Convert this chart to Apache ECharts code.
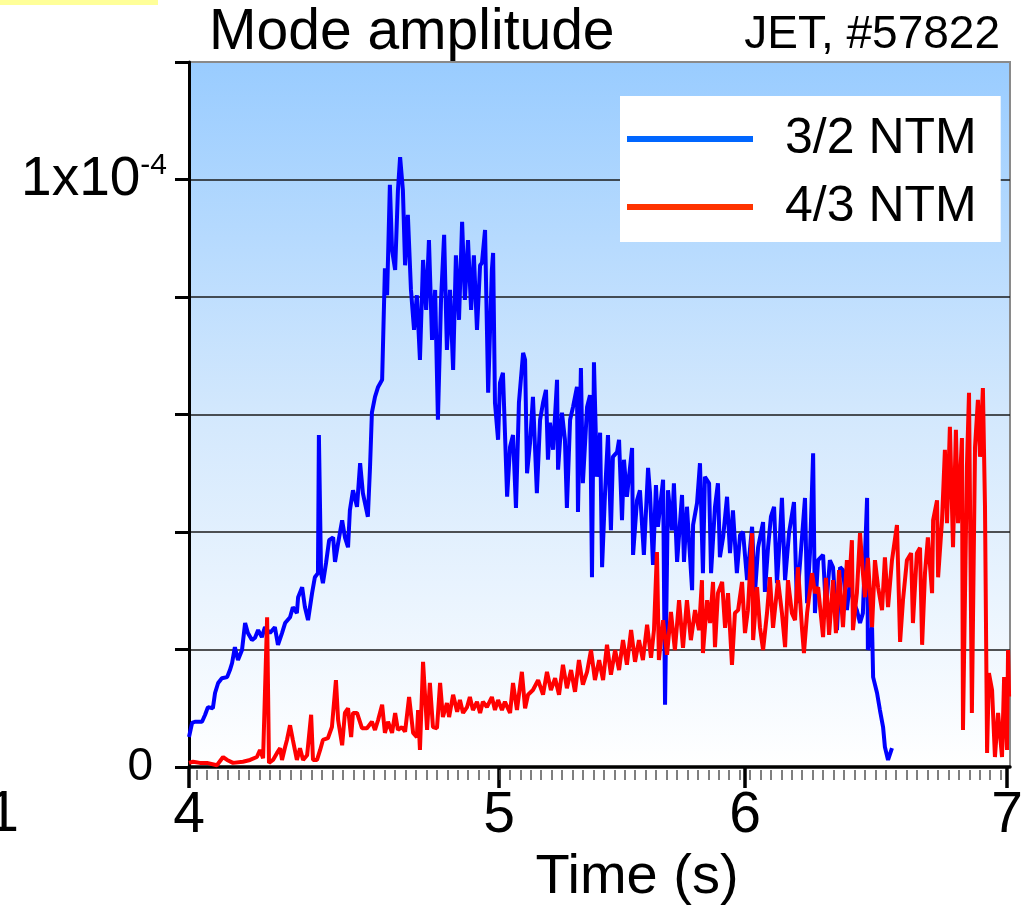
<!DOCTYPE html>
<html><head><meta charset="utf-8">
<script src="https://cdn.jsdelivr.net/npm/echarts@6/dist/echarts.min.js"></script>
<style>html,body{margin:0;padding:0;background:#fff}#c{width:1035px;height:907px}</style>
</head><body><div id="c"></div>
<script>
// ---- data (time in s, amplitude in units of 1e-5) ----
const xTickTimes = [4, 5, 6, 7];
const yTickValues = [0, 2, 4, 6, 8, 10, 12];
const seriesNames = ['3/2 NTM', '4/3 NTM'];

const time32 = [4.000,4.010,4.019,4.042,4.052,4.061,4.077,4.084,4.094,4.106,4.123,4.132,4.139,4.148,4.158,4.171,4.181,4.190,4.203,4.213,4.223,4.235,4.245,4.261,4.277,4.287,4.300,4.310,4.326,4.335,4.348,4.352,4.365,4.374,4.384,4.397,4.406,4.416,4.419,4.426,4.432,4.442,4.452,4.465,4.471,4.481,4.494,4.503,4.513,4.519,4.529,4.542,4.552,4.561,4.577,4.584,4.590,4.600,4.610,4.623,4.632,4.639,4.648,4.655,4.665,4.674,4.681,4.690,4.697,4.706,4.716,4.726,4.735,4.745,4.755,4.765,4.774,4.784,4.794,4.803,4.813,4.823,4.832,4.842,4.852,4.861,4.871,4.881,4.890,4.900,4.910,4.919,4.929,4.939,4.945,4.955,4.965,4.977,4.981,4.987,4.997,5.004,5.016,5.033,5.045,5.057,5.069,5.081,5.098,5.106,5.114,5.126,5.138,5.154,5.167,5.179,5.191,5.199,5.207,5.220,5.236,5.240,5.256,5.268,5.276,5.289,5.301,5.317,5.321,5.333,5.341,5.358,5.370,5.378,5.386,5.398,5.411,5.419,5.431,5.443,5.455,5.463,5.480,5.488,5.500,5.508,5.520,5.541,5.545,5.561,5.573,5.589,5.606,5.614,5.626,5.638,5.646,5.667,5.675,5.687,5.703,5.711,5.724,5.744,5.752,5.764,5.785,5.789,5.805,5.817,5.829,5.837,5.854,5.862,5.878,5.890,5.898,5.911,5.927,5.939,5.951,5.967,5.980,5.992,6.008,6.027,6.038,6.050,6.069,6.076,6.088,6.099,6.111,6.122,6.134,6.141,6.153,6.168,6.187,6.198,6.210,6.229,6.237,6.248,6.260,6.267,6.279,6.298,6.309,6.324,6.336,6.351,6.363,6.374,6.389,6.401,6.412,6.427,6.439,6.450,6.466,6.469,6.485,6.489,6.504,6.515,6.527,6.534,6.546,6.561];
const amp32 = [0.51,0.75,0.77,0.77,0.89,1.02,1.00,1.26,1.43,1.51,1.53,1.65,1.77,2.04,1.82,1.99,2.45,2.28,2.16,2.20,2.33,2.21,2.38,2.28,2.38,2.08,2.28,2.45,2.55,2.72,2.62,2.89,3.06,2.72,2.50,2.96,3.23,3.30,5.65,3.30,3.13,3.47,3.86,3.91,3.49,3.81,4.20,3.91,3.74,4.37,4.71,4.43,5.17,4.66,4.26,5.11,6.03,6.30,6.47,6.59,8.49,8.03,9.91,8.80,8.46,9.82,10.38,9.82,8.54,9.40,8.12,7.44,8.03,6.93,8.63,7.78,8.97,7.27,8.12,5.91,7.95,9.06,7.10,8.12,6.76,8.71,7.61,9.28,7.95,8.97,7.78,8.71,7.44,8.54,8.58,9.14,6.37,8.46,8.75,6.20,5.57,6.54,6.71,4.60,5.45,5.65,4.41,6.20,7.05,6.93,5.00,5.51,6.30,4.66,5.91,6.20,6.42,5.23,5.86,5.40,6.59,5.06,6.03,5.57,4.41,5.91,6.13,6.47,4.34,6.79,4.83,6.13,6.33,3.23,6.89,4.94,5.69,3.40,4.66,5.65,4.03,5.28,5.36,5.57,4.20,5.23,4.60,5.43,3.61,4.54,4.71,3.61,5.09,4.66,3.44,4.80,4.09,4.89,1.06,4.71,4.03,4.83,3.49,4.63,3.49,4.43,3.01,4.12,4.49,5.17,3.30,4.94,4.83,3.30,4.43,4.83,3.57,3.91,4.60,3.64,4.37,3.30,3.95,4.00,3.18,4.09,2.96,3.74,4.17,2.98,3.74,4.26,4.43,3.13,3.98,4.58,3.18,3.98,4.51,2.79,3.47,4.58,2.79,3.64,5.34,2.62,3.52,3.61,2.67,3.52,3.40,2.33,3.40,3.35,2.67,3.18,2.84,2.67,2.45,2.62,4.58,1.99,2.38,1.53,1.26,0.97,0.68,0.34,0.12,0.32];

const time43 = [4.000,4.013,4.035,4.058,4.090,4.110,4.123,4.142,4.174,4.197,4.219,4.229,4.239,4.252,4.258,4.271,4.284,4.294,4.300,4.310,4.316,4.326,4.335,4.348,4.358,4.368,4.381,4.394,4.400,4.413,4.423,4.432,4.448,4.461,4.474,4.481,4.494,4.503,4.513,4.523,4.529,4.542,4.558,4.574,4.590,4.600,4.610,4.623,4.632,4.642,4.655,4.665,4.674,4.687,4.697,4.710,4.723,4.735,4.739,4.745,4.755,4.768,4.777,4.787,4.800,4.810,4.819,4.832,4.839,4.852,4.865,4.874,4.884,4.897,4.906,4.916,4.929,4.939,4.948,4.961,4.977,4.987,4.997,5.012,5.024,5.045,5.057,5.073,5.093,5.106,5.118,5.138,5.159,5.179,5.195,5.211,5.228,5.244,5.260,5.276,5.293,5.309,5.325,5.341,5.358,5.374,5.390,5.407,5.423,5.439,5.455,5.472,5.488,5.504,5.520,5.537,5.553,5.569,5.585,5.602,5.618,5.630,5.642,5.650,5.667,5.683,5.699,5.715,5.732,5.748,5.764,5.780,5.797,5.813,5.825,5.829,5.846,5.858,5.870,5.878,5.890,5.907,5.919,5.931,5.947,5.959,5.972,5.988,6.000,6.011,6.027,6.031,6.046,6.057,6.069,6.084,6.095,6.107,6.126,6.141,6.153,6.164,6.179,6.191,6.202,6.218,6.225,6.237,6.256,6.267,6.279,6.298,6.309,6.321,6.336,6.347,6.359,6.374,6.389,6.397,6.408,6.412,6.427,6.439,6.450,6.458,6.469,6.485,6.496,6.508,6.523,6.534,6.546,6.561,6.580,6.592,6.603,6.618,6.634,6.641,6.656,6.668,6.676,6.687,6.698,6.714,6.718,6.733,6.737,6.752,6.763,6.771,6.782,6.794,6.805,6.813,6.828,6.832,6.847,6.855,6.866,6.878,6.889,6.897,6.908,6.916,6.924,6.931,6.943,6.954,6.966,6.981,6.989,7.000,7.004,7.008];
const amp43 = [0.07,0.09,0.07,0.07,0.03,0.17,0.12,0.07,0.09,0.12,0.17,0.29,0.15,2.55,0.07,0.12,0.24,0.32,0.12,0.34,0.46,0.71,0.46,0.12,0.32,0.12,0.20,0.89,0.12,0.12,0.29,0.46,0.49,0.68,1.48,0.80,0.37,0.92,1.00,0.51,0.92,0.92,0.66,0.66,0.77,0.63,0.80,1.06,0.58,0.77,0.58,0.92,0.63,0.68,0.60,1.19,0.58,0.51,0.97,0.29,1.79,0.63,1.43,0.68,0.66,1.43,0.85,1.09,0.85,1.23,0.94,1.14,0.92,1.02,1.19,0.97,1.11,0.92,1.11,1.02,1.19,0.97,1.14,0.97,1.11,0.92,1.43,0.97,1.62,1.00,1.23,1.31,1.48,1.23,1.62,1.31,1.51,1.23,1.74,1.34,1.65,1.28,1.82,1.40,1.62,1.99,1.48,1.82,1.48,2.08,1.57,1.99,1.65,2.16,1.74,2.33,1.79,2.16,1.82,2.42,1.86,2.33,3.66,1.82,2.50,1.91,2.64,1.99,2.84,2.03,2.84,2.16,2.67,2.33,3.18,1.94,2.84,2.45,3.15,2.04,2.96,3.15,2.37,2.96,1.74,2.62,2.67,3.15,2.28,2.67,3.98,2.16,3.06,2.38,1.99,2.62,3.23,2.37,3.18,2.62,2.04,3.18,2.62,2.50,3.40,2.33,1.94,2.62,3.30,2.96,3.06,2.21,3.22,2.25,3.18,2.28,3.35,2.38,3.52,3.06,3.86,2.33,2.96,3.98,3.30,2.89,3.56,2.38,3.52,3.06,2.67,3.57,2.72,3.52,4.12,2.13,2.84,3.52,3.64,2.45,3.64,3.73,2.08,3.30,3.91,2.96,4.20,4.54,3.23,4.20,5.40,4.15,5.79,3.74,5.74,4.15,5.60,0.63,5.11,6.37,0.92,5.45,6.25,5.28,6.45,4.43,0.24,1.60,1.31,0.17,0.92,0.17,1.53,0.29,1.99,1.20];

// ---- the original figure's time axis is piecewise linear between its labelled ticks ----
const knotT = [4, 5, 6, 7];
const knotP = [0, 310, 556, 818];
function seg(arrFrom, v) { let i = 0; while (i < arrFrom.length - 2 && v > arrFrom[i + 1]) i++; return i; }
function warp(t) { const i = seg(knotT, t); return knotP[i] + (t - knotT[i]) * (knotP[i+1] - knotP[i]) / (knotT[i+1] - knotT[i]); }
function unwarp(p) { const i = seg(knotP, p); return knotT[i] + (p - knotP[i]) * (knotT[i+1] - knotT[i]) / (knotP[i+1] - knotP[i]); }
const axisMax = 821;
const minorTicks = [];
for (let p = 7.7; p < axisMax; p += 10.44) minorTicks.push(p);

const d32 = time32.map((t, i) => [warp(t), amp32[i]]);
const d43 = time43.map((t, i) => [warp(t), amp43[i]]);

const FONT = '"Liberation Sans", Arial, Helvetica, sans-serif';
const chart = echarts.init(document.getElementById('c'), null, { renderer: 'canvas' });
chart.setOption({
  animation: false,
  backgroundColor: '#ffffff',
  textStyle: { fontFamily: FONT },
  title: [
    { text: 'Mode amplitude', left: 209, top: 5, padding: 0,
      textStyle: { fontSize: 57, fontWeight: 'normal', color: '#000', fontFamily: FONT } },
    { text: 'JET, #57822', right: 35, top: 12, padding: 0,
      textStyle: { fontSize: 46, fontWeight: 'normal', color: '#000', fontFamily: FONT } }
  ],
  grid: {
    left: 189, top: 62, right: 25, bottom: 140, show: true,
    outerBoundsMode: 'none', containLabel: false,
    borderColor: '#8a8a8a', borderWidth: 2,
    backgroundColor: { type: 'linear', x: 0, y: 0, x2: 0, y2: 1,
      colorStops: [{ offset: 0, color: '#99ccff' }, { offset: 0.5, color: '#d3e8fd' }, { offset: 1, color: '#ffffff' }] }
  },
  legend: {
    left: 620, top: 96, orient: 'vertical', padding: [18, 24, 10, 7],
    backgroundColor: '#ffffff', itemWidth: 126, itemHeight: 6, itemGap: 18,
    textStyle: { fontSize: 50, lineHeight: 50, color: '#000', fontFamily: FONT, padding: [0, 0, 0, 27] },
    data: [
      { name: seriesNames[0], icon: 'rect', itemStyle: { color: '#0066ff' } },
      { name: seriesNames[1], icon: 'rect', itemStyle: { color: '#ff3300' } }
    ]
  },
  xAxis: [
    { type: 'value', min: 0, max: axisMax, position: 'bottom',
      axisLine: { show: true, lineStyle: { color: '#000', width: 3.5 } },
      axisTick: { show: true, customValues: xTickTimes.map(warp), length: 21, lineStyle: { color: '#000', width: 3.5 } },
      axisLabel: { customValues: xTickTimes.map(warp), formatter: v => String(Math.round(unwarp(v))),
        fontSize: 57, color: '#000', margin: 21, fontFamily: FONT },
      splitLine: { show: false },
      name: 'Time (s)', nameLocation: 'middle', nameGap: 75,
      nameTextStyle: { fontSize: 56, color: '#000', fontFamily: FONT, padding: [0, 0, 0, 75] } },
    { type: 'value', min: 0, max: axisMax, position: 'bottom', offset: 3,
      axisLine: { show: false },
      axisTick: { show: true, customValues: minorTicks, length: 10, lineStyle: { color: '#555', width: 1.5 } },
      axisLabel: { show: false }, splitLine: { show: false } }
  ],
  yAxis: {
    type: 'value', min: yTickValues[0], max: yTickValues[yTickValues.length - 1], interval: 2,
    axisLine: { show: true, lineStyle: { color: '#000', width: 3 } },
    axisTick: { show: true, length: 14, lineStyle: { color: '#000', width: 3 } },
    splitLine: { show: true, lineStyle: { color: ['#000', '#1a1a1a', '#1a1a1a', '#1a1a1a', '#1a1a1a', '#1a1a1a', '#8a8a8a'], width: 1.5 } },
    axisLabel: {
      margin: 22, color: '#000', fontFamily: FONT,
      formatter: v => v === 0 ? '{z|0}' : (v === 10 ? '{m|1x10}{s|-4}' : ''),
      rich: {
        z: { fontSize: 46, padding: [0, 14, 0, 0], fontFamily: FONT, color: '#000' },
        m: { fontSize: 55, lineHeight: 58, fontFamily: FONT, color: '#000' },
        s: { fontSize: 30, lineHeight: 44, verticalAlign: 'top', fontFamily: FONT, color: '#000' }
      }
    }
  },
  series: [
    { name: seriesNames[0], type: 'line', data: d32, showSymbol: false, symbol: 'none',
      lineStyle: { color: '#0000ff', width: 4 }, itemStyle: { color: '#0000ff' }, z: 3 },
    { name: seriesNames[1], type: 'line', data: d43, showSymbol: false, symbol: 'none',
      lineStyle: { color: '#ff0000', width: 4 }, itemStyle: { color: '#ff0000' }, z: 4 }
  ],
  graphic: [
    { type: 'rect', shape: { x: 0, y: 0, width: 158, height: 5 }, style: { fill: '#ffff99' }, silent: true },
    { type: 'text', x: 19, y: 815, silent: true,
      style: { text: '1', font: '57px ' + FONT, fill: '#000', textAlign: 'right', textVerticalAlign: 'middle' } }
  ]
});
</script></body></html>
